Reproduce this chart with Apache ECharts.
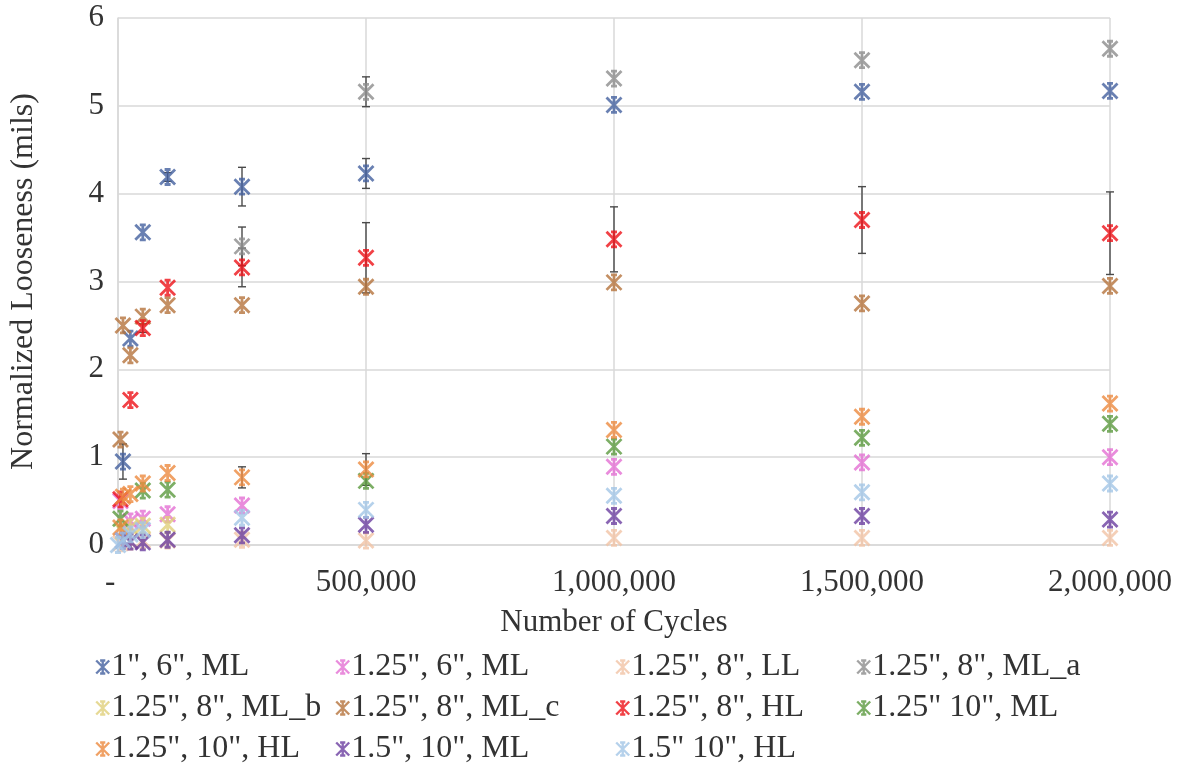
<!DOCTYPE html>
<html>
<head>
<meta charset="utf-8">
<script src="https://cdn.jsdelivr.net/npm/echarts@6/dist/echarts.min.js"></script>
<style>
  html, body { margin: 0; padding: 0; background: #ffffff; }
  #chart { width: 1182px; height: 773px; }
</style>
</head>
<body>
<div id="chart"></div>
<script>
// ---------- DATA ----------
const xTickLabels = ['-', '500,000', '1,000,000', '1,500,000', '2,000,000'];
const yTickLabels = ['0', '1', '2', '3', '4', '5', '6'];

const seriesNames = [
  '1", 6", ML', '1.25", 6", ML', '1.25", 8", LL', '1.25", 8", ML_a',
  '1.25", 8", ML_b', '1.25", 8", ML_c', '1.25", 8", HL', '1.25" 10", ML',
  '1.25", 10", HL', '1.5", 10", ML', '1.5" 10", HL'
];
const seriesColors = [
  '#43609f', '#e36fd3', '#f1c3a5', '#8c8c8c',
  '#e0cf7a', '#b5733c', '#ee1218', '#5b9a3f',
  '#ec8a3f', '#6b3fa0', '#a3c5e6'
];

// [cycles, looseness]
const d_1in6ML   = [[10000,0.95],[25000,2.35],[50000,3.56],[100000,4.19],[250000,4.08],[500000,4.23],[1000000,5.01],[1500000,5.16],[2000000,5.17]];
const e_1in6ML   = [0.2,0,0,0.05,0.22,0.17,0,0,0];
const d_125in6ML = [[5000,0.50],[25000,0.27],[50000,0.30],[100000,0.35],[250000,0.45],[1000000,0.89],[1500000,0.94],[2000000,1.00]];
const d_125in8LL = [[5000,0.02],[25000,0.04],[50000,0.05],[100000,0.05],[250000,0.06],[500000,0.05],[1000000,0.08],[1500000,0.08],[2000000,0.08]];
const d_125in8MLa = [[250000,3.40],[500000,5.16],[1000000,5.31],[1500000,5.52],[2000000,5.65]];
const e_125in8MLa = [0.22,0.17,0,0,0];
const d_125in8MLb = [[10000,0.15],[25000,0.20],[50000,0.22],[100000,0.23]];
const d_125in8MLc = [[5000,1.20],[10000,2.50],[25000,2.16],[50000,2.60],[100000,2.73],[250000,2.73],[500000,2.94],[1000000,2.99],[1500000,2.75],[2000000,2.95]];
const d_125in8HL = [[5000,0.52],[25000,1.65],[50000,2.47],[100000,2.93],[250000,3.16],[500000,3.27],[1000000,3.48],[1500000,3.70],[2000000,3.55]];
const e_125in8HL = [0,0,0.05,0,0.22,0.40,0.37,0.38,0.47];
const d_125in10ML = [[5000,0.30],[50000,0.62],[100000,0.63],[500000,0.73],[1000000,1.12],[1500000,1.22],[2000000,1.38]];
const d_125in10HL = [[5000,0.20],[10000,0.55],[25000,0.58],[50000,0.70],[100000,0.82],[250000,0.77],[500000,0.86],[1000000,1.31],[1500000,1.46],[2000000,1.61]];
const e_125in10HL = [0,0,0,0,0,0.12,0.18,0,0,0];
const d_15in10ML = [[10000,0.05],[25000,0.04],[50000,0.03],[100000,0.06],[250000,0.11],[500000,0.23],[1000000,0.33],[1500000,0.33],[2000000,0.29]];
const d_15in10HL = [[0,0.00],[10000,0.05],[25000,0.12],[50000,0.17],[250000,0.31],[500000,0.40],[1000000,0.56],[1500000,0.60],[2000000,0.70]];

const allData = [d_1in6ML, d_125in6ML, d_125in8LL, d_125in8MLa, d_125in8MLb, d_125in8MLc,
                 d_125in8HL, d_125in10ML, d_125in10HL, d_15in10ML, d_15in10HL];
const allErr = [e_1in6ML, null, null, e_125in8MLa, null, null, e_125in8HL, null, e_125in10HL, null, null];

// ---------- CHART ----------
const FONT = 'Liberation Serif';
const TXT = '#333333';
const FS = 31;
const star = 'path://M0,0L10,10M10,0L0,10M5,0L5,10M3,0L7,0M3,10L7,10';

const errData = [];
allData.forEach((d, i) => {
  const e = allErr[i];
  if (!e) return;
  d.forEach((p, j) => { if (e[j] > 0) errData.push([p[0], p[1], e[j]]); });
});

const series = [{
  type: 'custom',
  name: 'err',
  z: 1,
  silent: true,
  data: errData,
  renderItem: function (params, api) {
    const x = api.value(0), y = api.value(1), e = api.value(2);
    const lo = api.coord([x, y - e]);
    const hi = api.coord([x, y + e]);
    const w = 4;
    const st = { stroke: '#4a4a4a', lineWidth: 1.4 };
    return {
      type: 'group',
      children: [
        { type: 'line', shape: { x1: lo[0], y1: lo[1], x2: hi[0], y2: hi[1] }, style: st },
        { type: 'line', shape: { x1: lo[0] - w, y1: lo[1], x2: lo[0] + w, y2: lo[1] }, style: st },
        { type: 'line', shape: { x1: hi[0] - w, y1: hi[1], x2: hi[0] + w, y2: hi[1] }, style: st }
      ]
    };
  }
}];

allData.forEach((d, i) => {
  series.push({
    type: 'scatter',
    name: seriesNames[i],
    data: d,
    z: 2 + i,
    symbol: star,
    symbolSize: 15,
    itemStyle: { color: seriesColors[i], borderColor: seriesColors[i], borderWidth: 2.8 },
    emphasis: { disabled: true }
  });
});

const legendCols = [
  { left: 90,  names: [seriesNames[0], seriesNames[4], seriesNames[8]] },
  { left: 330, names: [seriesNames[1], seriesNames[5], seriesNames[9]] },
  { left: 610, names: [seriesNames[2], seriesNames[6], seriesNames[10]] },
  { left: 851, names: [seriesNames[3], seriesNames[7]] }
];
const legends = legendCols.map(c => ({
  orient: 'vertical',
  left: c.left,
  top: 646,
  itemGap: 9,
  itemWidth: 13,
  itemHeight: 13,
  selectedMode: false,
  data: c.names,
  itemStyle: { borderWidth: 2.4 },
  textStyle: { fontFamily: FONT, fontSize: 32, color: TXT, padding: [0, 0, 0, -3] }
}));

const option = {
  animation: false,
  backgroundColor: '#ffffff',
  grid: { left: 117, right: 72, top: 18, bottom: 228, containLabel: false },
  legend: legends,
  xAxis: {
    type: 'value',
    min: 0, max: 2000000, interval: 500000,
    name: 'Number of Cycles',
    nameLocation: 'middle',
    nameGap: 62,
    nameTextStyle: { fontFamily: FONT, fontSize: FS, color: TXT },
    axisLine: { show: true, lineStyle: { color: '#d9d9d9', width: 1.5 } },
    axisTick: { show: false },
    splitLine: { show: true, lineStyle: { color: '#d9d9d9', width: 1.5 } },
    axisLabel: {
      fontFamily: FONT, fontSize: FS, color: TXT, margin: 22,
      formatter: v => (v === 0 ? xTickLabels[0] + '\u00a0\u00a0' : xTickLabels[Math.round(v / 500000)])
    }
  },
  yAxis: {
    type: 'value',
    min: 0, max: 6, interval: 1,
    name: 'Normalized Looseness (mils)',
    nameLocation: 'middle',
    nameGap: 78,
    nameRotate: 90,
    nameTextStyle: { fontFamily: FONT, fontSize: 32, color: TXT },
    axisLine: { show: true, lineStyle: { color: '#d9d9d9', width: 1.5 } },
    axisTick: { show: false },
    splitLine: { show: true, lineStyle: { color: '#d9d9d9', width: 1.5 } },
    axisLabel: {
      fontFamily: FONT, fontSize: FS, color: TXT, margin: 14,
      formatter: v => yTickLabels[Math.round(v)]
    }
  },
  series: series
};

const chart = echarts.init(document.getElementById('chart'), null, { renderer: 'canvas' });
chart.setOption(option);
</script>
</body>
</html>
